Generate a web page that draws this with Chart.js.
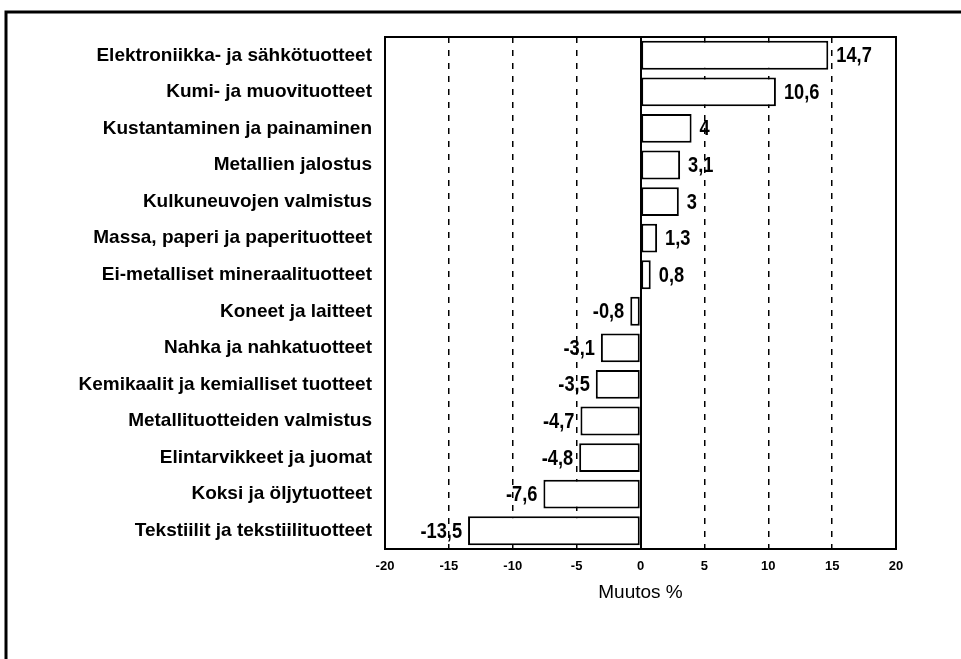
<!DOCTYPE html>
<html>
<head>
<meta charset="utf-8">
<script src="https://cdn.jsdelivr.net/npm/chart.js@4"></script>
<style>
  html, body { margin: 0; padding: 0; background: #fff; }
  #wrap { width: 961px; height: 659px; }
</style>
</head>
<body>
<div id="wrap"><canvas id="chart-muutos" width="961" height="659"></canvas></div>
<script>
const toimialat = [
    'Elektroniikka- ja sähkötuotteet',
    'Kumi- ja muovituotteet',
    'Kustantaminen ja painaminen',
    'Metallien jalostus',
    'Kulkuneuvojen valmistus',
    'Massa, paperi ja paperituotteet',
    'Ei-metalliset mineraalituotteet',
    'Koneet ja laitteet',
    'Nahka ja nahkatuotteet',
    'Kemikaalit ja kemialliset tuotteet',
    'Metallituotteiden valmistus',
    'Elintarvikkeet ja juomat',
    'Koksi ja öljytuotteet',
    'Tekstiilit ja tekstiilituotteet'
];
const muutokset = [14.7, 10.6, 4, 3.1, 3, 1.3, 0.8, -0.8, -3.1, -3.5, -4.7, -4.8, -7.6, -13.5];
const akseliMin = -20;
const akseliMax = 20;
const askel = 5;
const katkoviivat = [-15, -10, -5, 5, 10, 15];

// kehykset, nollaviiva ja arvot palkkien päihin
const kehysPlugin = {
    id: 'kehys',
    afterDatasetsDraw(chart) {
        const ctx = chart.ctx;
        const area = chart.chartArea;
        const x = chart.scales.x;
        const meta = chart.getDatasetMeta(0);

        ctx.save();
        ctx.strokeStyle = '#000';
        ctx.lineWidth = 2;
        const x0 = Math.round(x.getPixelForValue(0));
        ctx.beginPath();
        ctx.moveTo(x0, area.top);
        ctx.lineTo(x0, area.bottom);
        ctx.stroke();

        // kapeampi lihavoitu fontti: vaakasuunnassa puristettu
        ctx.font = 'bold 22px "Liberation Sans", Arial, sans-serif';
        ctx.fillStyle = '#000';
        ctx.textBaseline = 'middle';
        meta.data.forEach(function(bar, i) {
            const v = muutokset[i];
            const teksti = String(v).replace('.', ',');
            ctx.save();
            if (v >= 0) {
                ctx.translate(bar.x + 8, bar.y + 1);
                ctx.textAlign = 'left';
            } else {
                ctx.translate(bar.x - 6, bar.y + 1);
                ctx.textAlign = 'right';
            }
            ctx.scale(0.83, 1);
            ctx.fillText(teksti, 0, 0);
            ctx.restore();
        });
        ctx.restore();
    },
    afterDraw(chart) {
        const ctx = chart.ctx;
        const area = chart.chartArea;
        ctx.save();
        ctx.strokeStyle = '#000';
        ctx.lineWidth = 2;
        ctx.strokeRect(area.left, area.top, area.right - area.left, area.bottom - area.top);

        ctx.lineWidth = 3;
        ctx.beginPath();
        ctx.moveTo(961, 12);
        ctx.lineTo(6, 12);
        ctx.lineTo(6, 659);
        ctx.stroke();
        ctx.restore();
    }
};

const ctx = document.getElementById('chart-muutos').getContext('2d');
new Chart(ctx, {
    type: 'bar',
    data: {
        labels: toimialat,
        datasets: [{
            label: 'Muutos %',
            data: muutokset,
            backgroundColor: '#fff',
            borderColor: '#000',
            borderWidth: 2,
            borderSkipped: false,
            barPercentage: 0.79,
            categoryPercentage: 1
        }]
    },
    options: {
        indexAxis: 'y',
        responsive: false,
        animation: false,
        layout: {
            padding: { top: 37, right: 65, bottom: 0, left: 0 }
        },
        plugins: {
            legend: { display: false },
            tooltip: { enabled: false }
        },
        scales: {
            x: {
                min: akseliMin,
                max: akseliMax,
                afterFit: function(scale) { scale.height = 110; },
                border: { display: false, dash: [6, 7] },
                grid: {
                    drawTicks: false,
                    lineWidth: 1.5,
                    color: function(c) {
                        return (c.tick && katkoviivat.includes(c.tick.value)) ? '#000' : 'rgba(0,0,0,0)';
                    }
                },
                ticks: {
                    stepSize: askel,
                    padding: 10,
                    color: '#000',
                    font: { family: '"Liberation Sans", Arial, sans-serif', size: 13, weight: 'bold' }
                },
                title: {
                    display: true,
                    text: 'Muutos %',
                    color: '#000',
                    padding: { top: 0, bottom: 55 },
                    font: { family: '"Liberation Sans", Arial, sans-serif', size: 19 }
                }
            },
            y: {
                afterFit: function(scale) { scale.width = 385; },
                border: { display: false },
                grid: { display: false, drawTicks: false },
                ticks: {
                    padding: 13,
                    color: '#000',
                    autoSkip: false,
                    font: { family: '"Liberation Sans", Arial, sans-serif', size: 19, weight: 'bold' }
                }
            }
        }
    },
    plugins: [kehysPlugin]
});
</script>
</body>
</html>
